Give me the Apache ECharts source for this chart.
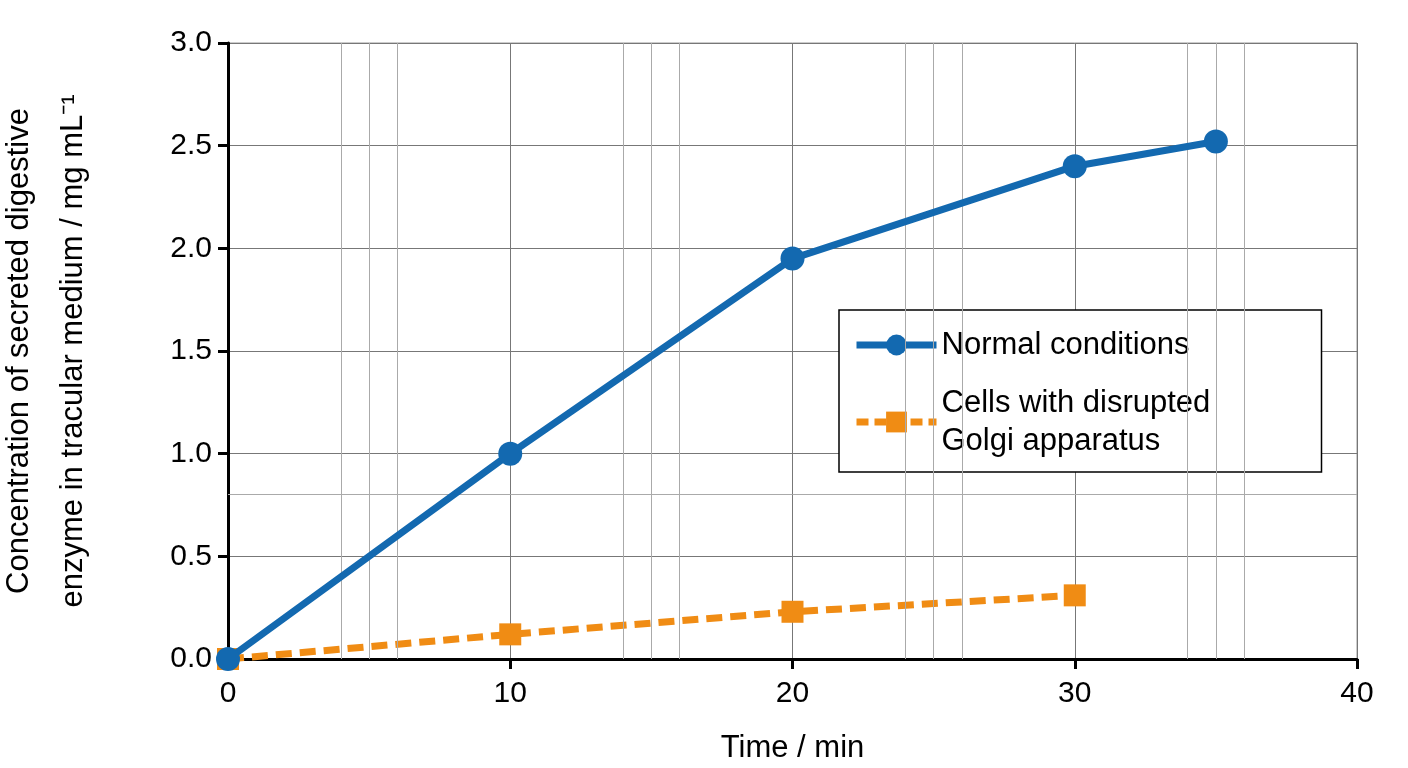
<!DOCTYPE html>
<html><head><meta charset="utf-8">
<script src="https://cdn.jsdelivr.net/npm/echarts@6/dist/echarts.min.js"></script>
<style>html,body{margin:0;background:#fff}#main{width:1408px;height:768px}</style>
</head><body><div id="main"></div>
<script>
var normalX = [0, 10, 20, 30, 35];
var normalY = [0, 1.0, 1.95, 2.4, 2.52];
var golgiX = [0, 10, 20, 30];
var golgiY = [0, 0.12, 0.23, 0.31];
var extraXLines = [4, 5, 6, 14, 15, 16, 24, 25, 26, 34, 35, 36];
var extraYLines = [0.8];

function pairs(xs, ys) { return xs.map(function (x, i) { return [x, ys[i]]; }); }
var font = 'Liberation Sans';
var chart = echarts.init(document.getElementById('main'));
var marks = extraXLines.map(function (v) { return { xAxis: v }; })
  .concat(extraYLines.map(function (v) { return { yAxis: v }; }));
chart.setOption({
  animation: false,
  textStyle: { fontFamily: font },
  grid: { left: 228, right: 51, top: 43, bottom: 109, containLabel: false, outerBoundsMode: 'none',
    show: true, borderColor: '#999', borderWidth: 1 },
  xAxis: {
    type: 'value', min: 0, max: 40, interval: 10,
    name: 'Time / min', nameLocation: 'middle', nameGap: 74,
    nameTextStyle: { fontSize: 31, color: '#000', fontFamily: font },
    axisLine: { show: true, lineStyle: { color: '#000', width: 3 } },
    axisTick: { show: true, length: 10, lineStyle: { color: '#000', width: 3 } },
    axisLabel: { fontSize: 30, color: '#000', margin: 20 },
    splitLine: { show: true, lineStyle: { color: '#777', width: 1 } }
  },
  yAxis: {
    type: 'value', min: 0, max: 3, interval: 0.5,
    name: 'Concentration of secreted digestive\nenzyme in tracular medium / mg mL\u207B\u00B9',
    nameLocation: 'middle', nameGap: 128, nameRotate: 90,
    nameTextStyle: { fontSize: 31, color: '#000', lineHeight: 54, fontFamily: font },
    axisLine: { show: true, lineStyle: { color: '#000', width: 3 } },
    axisTick: { show: true, length: 10, lineStyle: { color: '#000', width: 3 } },
    axisLabel: { fontSize: 30, color: '#000', margin: 16, formatter: function (v) { return v.toFixed(1); } },
    splitLine: { show: true, lineStyle: { color: '#777', width: 1 } }
  },
  legend: {
    orient: 'vertical', left: 839, top: 310,
    backgroundColor: '#fff', borderColor: '#000', borderWidth: 1.5,
    padding: [16, 40, 12, 14], itemGap: 20, itemWidth: 80, itemHeight: 26,
    textStyle: { fontSize: 31, color: '#000', lineHeight: 38, fontFamily: font, width: 340 },
    data: [
      { name: 'Normal conditions', lineStyle: { width: 7 } },
      { name: 'Cells with disrupted\nGolgi apparatus', lineStyle: { width: 7, type: [12, 6] } }
    ]
  },
  series: [
    {
      name: 'grid-extra', type: 'line', data: [], silent: true,
      markLine: { silent: true, symbol: 'none', label: { show: false },
        lineStyle: { color: '#aaa', width: 1, type: 'solid' }, data: marks }
    },
    {
      name: 'Normal conditions', type: 'line', data: pairs(normalX, normalY),
      symbol: 'circle', symbolSize: 24, z: 5,
      lineStyle: { color: '#1369b0', width: 7 }, itemStyle: { color: '#1369b0' }
    },
    {
      name: 'Cells with disrupted\nGolgi apparatus', type: 'line', data: pairs(golgiX, golgiY),
      symbol: 'rect', symbolSize: 22, z: 4,
      lineStyle: { color: '#f08c14', width: 7, type: [16, 8] }, itemStyle: { color: '#f08c14' }
    }
  ]
});
</script></body></html>
